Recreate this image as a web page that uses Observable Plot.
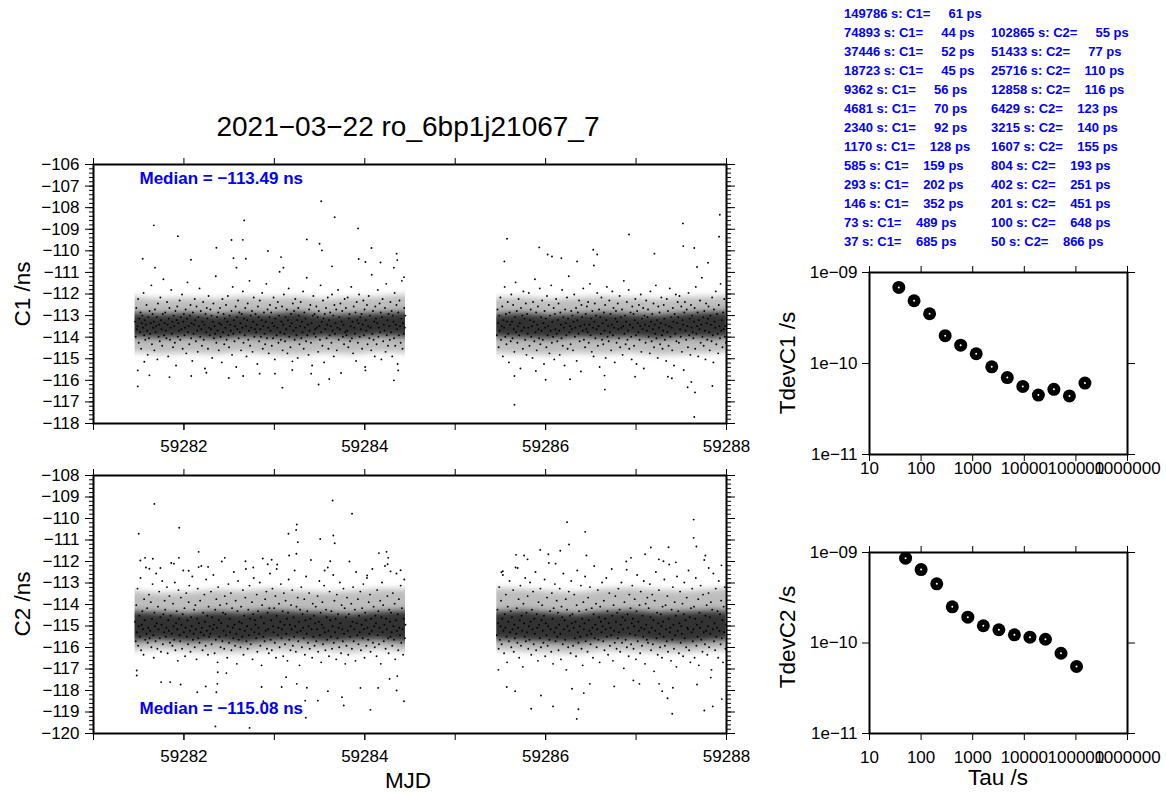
<!DOCTYPE html>
<html>
<head>
<meta charset="utf-8">
<script src="https://cdn.jsdelivr.net/npm/d3@7"></script>
<script src="https://cdn.jsdelivr.net/npm/@observablehq/plot@0.6"></script>
<style>
  html, body { margin: 0; padding: 0; background: #fff; }
  #root { position: relative; width: 1166px; height: 793px; overflow: hidden; background: #fff; }
</style>
</head>
<body>
<div id="root"></div>
<script>
// ---------------- DATA ----------------
const chartTitle = "2021−03−22 ro_6bp1j21067_7";

// TDEV results (tau in s, tdev in ps)
const c1Tau  = [37, 73, 146, 293, 585, 1170, 2340, 4681, 9362, 18723, 37446, 74893, 149786];
const c1Tdev = [685, 489, 352, 202, 159, 128, 92, 70, 56, 45, 52, 44, 61];
const c2Tau  = [50, 100, 201, 402, 804, 1607, 3215, 6429, 12858, 25716, 51433, 102865];
const c2Tdev = [866, 648, 451, 251, 193, 155, 140, 123, 116, 110, 77, 55];

// medians (ns)
const c1Median = -113.49;
const c2Median = -115.08;

// sampling spans of the two data blocks (MJD)
const blockStart = [59281.46, 59285.46];
const blockEnd   = [59284.45, 59287.995];
const devUnit = 0.07; // ns per unit of the deviation lists below

// C1 deviations from median (units of devUnit), block 1 and block 2
const c1Block1Dev = [
3,-7,12,-2,0,18,-11,5,-4,9,-15,2,7,-1,22,-6,4,-9,1,14,-3,-19,6,-8,10,
-5,2,27,-12,8,-1,3,-16,11,-4,0,6,-22,15,-7,1,-10,19,4,-2,-13,8,31,-6,2,
9,-3,-8,16,1,-20,5,12,-9,-1,24,-5,3,-14,7,0,-11,10,-26,4,13,-7,2,-3,17,
-9,6,-2,21,-15,3,8,-6,-1,11,-18,5,29,-4,0,-12,7,14,-8,2,-23,9,-5,1,18,
4,-10,13,-3,-17,6,0,25,-7,10,-2,-13,3,16,-9,1,-28,8,-4,12,5,-15,20,-1,-6,
11,-2,7,-21,3,15,-8,0,-5,33,-11,6,-3,9,-16,2,12,-7,1,-24,18,-4,8,-12,5,
-1,14,-9,3,20,-6,-14,7,1,-3,10,-19,26,-5,4,-10,0,13,-27,6,-2,17,-8,9,-4,
2,-16,8,-1,23,-11,5,-6,12,0,-20,4,15,-9,-3,30,-13,7,-1,10,-17,3,19,-7,-2,
8,-4,1,-25,13,6,-10,17,-2,-7,4,22,-15,0,9,-5,-12,3,28,-8,11,-1,-18,6,14,
-3,9,-13,2,-8,19,0,-22,5,12,-6,-1,16,-11,7,36,-4,-9,3,13,-16,1,21,-5,-10,
6,-2,11,-18,4,25,-7,0,-14,8,2,-29,15,-3,10,-9,18,-1,-6,4,-21,12,7,-12,0,
16,-8,3,-4,23,-15,9,-1,5,-10,32,-6,1,-19,11,-3,14,-11,2,-26,7,20,-5,8,-2,
-7,13,-1,6,-17,10,0,-9,27,-4,3,-13,17,5,-24,8,-2,12,-8,1,19,-15,4,-6,9,
0,-11,21,-3,7,-20,14,-5,2,11,-16,-1,24,-9,6,-2,15,-31,3,10,-7,1,-12,18,-4,
12,-6,-3,19,-14,5,8,-10,0,26,-8,3,-18,13,-1,-5,9,-23,16,4,-11,2,21,-7,6,
-2,8,-15,1,17,-6,11,-27,4,-3,14,-12,0,20,-8,7,-1,-16,34,-5,10,-9,3,-20,13,
5,-12,2,24,-7,-1,15,-4,9,-22,6,18,-10,1,-3,12,-17,28,-6,4,-13,8,0,-9,16,
-4,10,-20,7,3,-8,22,-13,1,14,-2,-25,9,-6,17,0,-11,5,30,-15,2,-5,12,-1,7
];
const c1Block2Dev = [
-6,11,2,-14,7,-3,19,-9,0,13,-20,4,-1,26,-7,8,-12,3,16,-5,-24,9,1,-10,21,
3,-8,14,-2,-17,6,29,-4,10,-11,0,18,-6,2,-28,12,-3,7,-15,23,-1,5,-9,15,-19,
8,-5,-1,22,-13,4,11,-7,0,-21,16,3,-10,31,-4,9,-16,1,13,-2,-8,25,-12,6,-3,
17,-9,2,-25,10,-1,5,-14,20,-6,0,14,-18,7,-3,27,-11,3,-7,12,-22,8,-2,18,-5,
-10,4,15,-3,-19,9,1,-8,24,-13,6,-1,-26,11,2,-6,19,-15,5,33,-4,0,-12,10,-2,
7,-16,3,21,-7,-1,12,-23,4,9,-5,17,-10,0,-30,14,6,-3,25,-9,1,-14,8,-2,13,
-4,16,-11,1,28,-6,5,-17,10,-1,-20,3,15,-8,7,-2,22,-13,0,11,-27,6,-5,19,-9,
2,-12,9,-3,14,-21,4,26,-7,0,-10,17,-4,8,-16,1,23,-6,12,-1,-24,5,10,-11,3,
15,-2,-8,20,-14,6,-1,11,-19,0,30,-5,7,-12,3,16,-9,-3,24,-15,1,9,-7,-22,13,
-1,8,-13,4,18,-6,-25,10,2,-4,14,-9,0,21,-17,5,-2,12,-28,7,1,-11,17,-3,6,
11,-7,0,-18,23,3,-10,8,-2,15,-14,1,-5,27,-8,4,-21,13,-1,9,-12,2,19,-6,-15,
-3,14,5,-9,1,-23,18,-4,10,-13,0,25,-7,6,-1,-16,12,3,-26,8,-5,21,-10,2,16,
6,-11,20,-2,-7,13,-17,4,1,-29,9,16,-3,-9,11,0,-14,22,-6,5,-19,14,-1,7,-4,
-8,3,12,-15,26,-5,0,9,-20,4,-2,17,-11,1,32,-7,6,-13,10,-3,-22,15,2,-9,5,
13,-4,-16,7,1,-10,19,-6,-24,11,3,-1,23,-12,8,-5,-18,14,0,-8,28,-3,4,-14,9,
-2,18,-7,0,-11
];

// C2 deviations from median (units of devUnit)
const c2Block1Dev = [
4,-9,15,-3,26,-12,1,8,-6,33,-15,2,11,-1,-18,19,5,-8,40,-4,13,-10,0,22,-7,
-2,17,-13,6,29,-5,-20,10,1,-9,36,3,-14,14,-1,24,-7,7,-16,2,31,-11,9,-3,18,
12,-6,0,27,-17,5,-2,21,-10,8,43,-4,-12,16,1,-8,30,-15,3,11,-1,-22,25,6,-5,
-9,20,2,-14,9,38,-3,13,-19,0,23,-6,5,-11,17,28,-2,-16,7,1,34,-8,-4,12,-13,
15,-1,-21,6,26,-7,3,-10,18,-3,41,0,-15,10,-5,22,4,-12,32,-2,8,-18,14,-6,1,
-4,24,-11,7,-1,35,2,-17,12,-8,19,0,-23,27,5,-6,15,-13,3,44,-9,10,-2,-14,21,
9,-5,16,-20,1,29,-10,6,-3,23,-15,13,0,-7,37,2,-12,18,-4,-24,11,31,-8,4,-1,
-13,14,3,-6,25,-18,8,-2,20,39,-9,1,-14,12,-5,28,6,-11,-1,17,-21,9,33,-3,5,
2,-7,22,-16,11,0,-4,30,-12,7,-25,15,46,-6,3,-9,19,-2,24,-14,10,-1,-17,13,36,
-8,5,-15,26,1,-3,13,-10,21,-20,8,42,-5,0,16,-13,4,29,-7,-1,11,-19,23,2,-11,
18,-4,6,-22,10,32,-8,2,-15,15,-1,25,-12,7,-6,38,1,-16,14,-3,20,-9,4,-25,12,
-2,27,-13,9,0,-7,19,-18,5,34,-4,11,-10,1,23,-14,6,45,-1,-20,16,-6,8,-12,3,
14,-9,-1,21,-16,4,31,-5,10,-23,2,17,-11,0,28,-3,-15,12,7,-8,40,-2,-19,24,5,
-6,11,-14,1,35,-10,18,-3,6,-21,22,-7,9,0,-13,30,3,-17,15,-1,-9,26,-4,13,-24,
7,-12,20,-2,-18,9,44,-6,1,16,-14,4,27,-9,-1,12,-22,37,3,-5,19,-11,8,-3,24,
-15,2,13,-7,29,-1,-20,10,5,-12,33,0,-8,17,-4,22,-16,6,-2,39,-10,14,1,-13,8,
3,-19,25,-5,11,-11,0,18,-24,7,30,-3,15,-9,2,41,-14,6,-1,21,-7,-17,12,4,-6,
10,-3,-12,23,1,-8,16,-21,5,36,-2,9,-15,19,0,-5,28,-10,13,-1,-18,6,32,-7,2
];
const c2Block2Dev = [
-5,12,3,-14,27,-8,1,18,-11,6,35,-2,-17,9,0,22,-6,-23,14,4,-9,31,-3,11,-13,
7,-1,25,-16,2,-7,40,-4,13,-10,0,19,-20,5,28,-12,8,-2,-26,16,3,-6,33,-9,10,
-3,21,-14,1,-8,30,4,-18,12,-1,24,-11,6,-4,37,-15,9,0,-22,17,2,-7,26,-13,5,
15,-2,-10,8,32,-19,3,-5,20,-12,1,43,-8,11,-1,-16,23,6,-24,13,-3,29,-9,0,18,
-6,10,-15,2,26,-4,-21,14,7,-11,36,-1,5,-8,19,-28,12,1,-13,24,-2,8,-17,31,3,
9,-12,0,22,-7,4,-19,15,38,-3,-10,11,1,-6,28,-14,6,-25,17,-1,3,34,-9,12,-5,
-16,20,5,-2,27,-11,-4,13,0,-20,9,41,-7,2,16,-13,-1,25,-8,7,-23,14,4,-3,30,
1,-9,18,-15,6,-1,33,-6,11,-18,3,23,-12,0,-5,39,8,-22,15,-2,-10,21,4,-14,10,
-7,26,-3,12,-16,2,30,-10,7,-1,-27,17,5,-8,44,-13,9,0,-19,22,-4,13,-11,3,28,
6,-14,1,19,-5,-21,11,35,-9,4,-2,15,-17,24,0,-12,8,-6,31,-1,-24,16,2,-8,20,
-10,13,-3,29,7,-15,0,22,-11,5,-29,18,-2,37,-7,10,-18,3,25,-4,-13,9,1,-20,14,
4,-6,32,-12,15,-1,-9,21,-16,6,42,-3,0,-22,12,-8,27,2,-14,17,-5,8,-26,34,-2,
11,-17,3,24,-10,1,-4,16,-19,9,30,-7,5,-13,20,0,-1,38,-15,7,-23,13,-3,26,-9,
-1,14,-20,6,33,-12,2,-6,19,-25,10,0,28,-8,4,-16,22,-3,45,-11,8,-2,15,-18,1,
23,-13,7,-4,17,-28,12,-1,36,-9,3,-15,26,-6,0,11,-20,31,-2,9,-11,18,-7,5,-23,
14,-3,27,-14,2
];

// isolated points (MJD, ns)
const c1OutT = [59281.667,59281.544,59281.933,59281.68,59282.078,59282.359,59282.526,59282.651,59282.667,59282.548,59282.685,59282.581,59282.929,59283.074,59283.1,59283.359,59283.5,59283.518,59283.526,59283.667,59283.637,59283.926,59283.933,59284.007,59284.074,59284.174,59284.352,59284.359,59284.322,59284.433,
59281.489,59281.489,59281.562,59281.618,59281.84,59282.081,59282.248,59282.496,59282.655,59282.837,59283.007,59283.089,59283.489,59283.607,59283.407,59284.007,59284.322,59284.37,59283.2,
59285.573,59285.544,59285.929,59286.022,59286.07,59286.174,59286.348,59286.526,59286.57,59286.533,59286.922,59287.203,59287.518,59287.522,59287.644,59287.796,59287.926,59287.918,59287.674,
59285.655,59285.655,59286.0,59286.27,59286.655,59286.651,59286.989,59287.352,59287.396,59287.57,59287.611,59287.652,59287.644,59287.844,59285.892];
const c1OutV = [-108.82,-110.37,-109.32,-110.78,-110.41,-109.86,-109.50,-109.49,-108.59,-110.34,-110.37,-110.78,-110.01,-110.29,-110.78,-109.47,-109.67,-107.70,-109.98,-108.44,-110.72,-108.96,-110.38,-110.52,-109.87,-110.54,-110.13,-110.43,-110.78,-111.22,
-116.28,-115.54,-115.14,-115.77,-115.85,-115.80,-115.65,-115.89,-115.80,-115.69,-115.69,-116.34,-116.19,-115.94,-115.69,-115.54,-116.0,-115.54,-115.12,
-109.44,-110.49,-109.84,-110.17,-110.26,-110.34,-110.49,-109.95,-110.17,-110.68,-109.24,-110.13,-108.73,-109.78,-109.87,-110.55,-108.33,-109.35,-110.75,
-117.13,-115.80,-115.97,-115.95,-116.43,-115.78,-115.83,-115.83,-115.9,-116.32,-116.08,-116.56,-117.70,-116.26,-115.57];

const c2OutT = [59281.673,59281.5,59281.948,59281.518,59281.57,59281.656,59281.618,59281.74,59281.944,59281.889,59282.163,59282.052,59282.163,59282.452,59282.267,59282.681,59282.97,59282.926,59282.767,59283.026,59283.156,59283.248,59283.241,59283.259,59283.163,59283.244,59283.507,59283.644,59283.652,59283.667,59283.859,59283.618,59283.556,59284.156,59284.241,59284.259,59284.252,59284.396,59284.285,59284.026,
59281.478,59281.478,59281.748,59281.848,59281.963,59282.148,59282.359,59282.241,59282.374,59282.37,59282.47,59282.859,59283.081,59283.13,59283.248,59283.341,59283.359,59283.481,59283.592,59283.748,59283.767,59283.952,59284.063,59284.148,59284.274,59284.352,59284.359,59284.433,59282.348,59282.726,59282.878,59283.348,
59286.237,59286.437,59286.259,59287.637,59287.637,59287.667,59285.673,59285.762,59285.94,59286.162,59286.451,59285.8,59286.03,59286.11,59286.944,59287.1,59287.163,59287.252,59287.303,59287.359,59287.44,59287.766,59287.803,59287.944,59285.526,59285.51,59285.69,59286.896,
59285.478,59285.57,59285.663,59285.84,59285.948,59286.081,59286.344,59286.362,59286.292,59286.422,59286.489,59286.759,59286.97,59287.037,59287.255,59287.289,59287.348,59287.4,59287.407,59287.674,59287.755,59287.848,59287.948,59287.826];
const c2OutV = [-109.32,-110.71,-110.43,-111.95,-111.83,-111.87,-112.34,-112.3,-111.83,-112.1,-111.55,-112.43,-112.26,-111.83,-112.25,-111.99,-111.92,-112.13,-112.28,-112.35,-110.71,-110.28,-110.53,-111.10,-111.72,-111.64,-110.95,-109.16,-110.79,-111.15,-109.78,-111.99,-112.42,-111.61,-111.55,-111.83,-112.13,-112.41,-112.46,-112.65,
-117.07,-117.30,-117.61,-117.61,-117.72,-118.08,-118.08,-117.81,-117.15,-117.69,-117.19,-117.84,-117.84,-117.38,-117.69,-118.47,-117.87,-118.47,-118.03,-118.31,-118.70,-117.88,-118.90,-117.88,-117.46,-118.0,-117.33,-118.50,-119.67,-119.74,-118.50,-119.27,
-110.17,-110.62,-111.21,-110.05,-110.90,-111.30,-111.69,-111.72,-111.46,-111.5,-111.72,-111.9,-111.66,-112.1,-111.83,-111.66,-111.35,-111.9,-111.99,-111.34,-112.04,-111.72,-112.3,-112.18,-112.45,-112.5,-112.3,-112.38,
-117.04,-117.84,-118.03,-118.85,-118.23,-118.74,-119.32,-118.87,-117.92,-118.12,-117.69,-117.81,-117.53,-117.69,-117.69,-118.03,-118.36,-119.08,-117.87,-117.72,-118.93,-118.74,-118.40,-117.4];

// density envelope of the dense core, read per time bin (MJD, ns)
const bandT = [59281.46,59281.75,59282.05,59282.35,59282.65,59282.95,59283.25,59283.55,59283.85,59284.15,59284.45,
               59285.46,59285.75,59286.05,59286.35,59286.65,59286.95,59287.25,59287.55,59287.85,59287.995];
const c1InnerHi = [-112.9,-112.95,-112.9,-113.0,-112.9,-112.95,-112.85,-113.0,-112.95,-112.9,-112.85, -112.95,-112.9,-113.0,-112.95,-112.9,-112.95,-113.0,-112.9,-112.85,-112.85];
const c1InnerLo = [-114.0,-114.05,-114.0,-114.1,-114.0,-114.05,-114.1,-114.0,-114.05,-113.95,-114.0, -114.0,-114.05,-114.1,-114.0,-114.05,-114.0,-114.1,-114.0,-114.05,-114.0];
const c1OuterHi = [-112.15,-112.25,-112.2,-112.25,-112.15,-112.2,-112.15,-112.25,-112.2,-112.15,-112.05, -112.2,-112.15,-112.25,-112.2,-112.15,-112.2,-112.25,-112.15,-112.15,-112.1];
const c1OuterLo = [-114.7,-114.8,-114.75,-114.8,-114.7,-114.8,-114.85,-114.75,-114.8,-114.7,-114.75, -114.75,-114.8,-114.85,-114.75,-114.8,-114.75,-114.85,-114.8,-114.75,-114.7];
const c2InnerHi = [-114.35,-114.4,-114.45,-114.35,-114.4,-114.3,-114.35,-114.4,-114.45,-114.35,-114.3, -114.35,-114.3,-114.4,-114.45,-114.35,-114.3,-114.4,-114.35,-114.3,-114.35];
const c2InnerLo = [-115.7,-115.65,-115.75,-115.7,-115.8,-115.7,-115.65,-115.75,-115.7,-115.65,-115.75, -115.65,-115.7,-115.75,-115.8,-115.7,-115.65,-115.75,-115.8,-115.7,-115.65];
const c2OuterHi = [-113.4,-113.5,-113.45,-113.35,-113.4,-113.3,-113.4,-113.45,-113.4,-113.3,-113.3, -113.25,-113.3,-113.4,-113.45,-113.3,-113.25,-113.35,-113.4,-113.3,-113.25];
const c2OuterLo = [-116.15,-116.1,-116.2,-116.25,-116.25,-116.15,-116.2,-116.15,-116.25,-116.1,-116.2, -116.15,-116.2,-116.25,-116.3,-116.15,-116.2,-116.25,-116.25,-116.15,-116.15];

// axis ticks
const mjdTicks = [59281, 59282, 59283, 59284, 59285, 59286, 59287, 59288];
const mjdLabels = [59282, 59284, 59286, 59288];
const c1YTicks = [-106,-107,-108,-109,-110,-111,-112,-113,-114,-115,-116,-117,-118];
const c2YTicks = [-108,-109,-110,-111,-112,-113,-114,-115,-116,-117,-118,-119,-120];
const tauTicks = [10, 100, 1000, 10000, 100000, 1000000];
const tauTickLabels = ["10", "100", "1000", "10000", "100000", "1000000"];
const tdevTicks = [1e-9, 1e-10, 1e-11];
const tdevTickLabels = ["1e−09", "1e−10", "1e−11"];

// ---------------- DRAWING ----------------
const FONT = "'Liberation Sans', Arial, Helvetica, sans-serif";
const root = document.getElementById("root");
const minus = v => (v < 0 ? "−" + Math.abs(v) : String(v));

function hText(txt, x, baseline, fs, opts = {}) {
  const d = document.createElement("div");
  d.textContent = txt;
  Object.assign(d.style, {
    position: "absolute", whiteSpace: "pre", fontFamily: FONT, fontSize: fs + "px",
    lineHeight: "1", top: (baseline - 0.8465 * fs) + "px",
    color: opts.color || "#000", fontWeight: opts.bold ? "bold" : "normal"
  });
  if (opts.center) { d.style.left = (x - 500) + "px"; d.style.width = "1000px"; d.style.textAlign = "center"; }
  else d.style.left = x + "px";
  root.appendChild(d);
}
function vText(txt, baselineX, cy, fs) {
  const d = document.createElement("div");
  d.textContent = txt;
  Object.assign(d.style, {
    position: "absolute", whiteSpace: "pre", fontFamily: FONT, fontSize: fs + "px",
    lineHeight: "1", left: (baselineX - 0.3465 * fs) + "px", top: cy + "px", color: "#000",
    transform: "translate(-50%,-50%) rotate(-90deg)"
  });
  root.appendChild(d);
}
function place(svg, left, top) {
  svg.style.position = "absolute";
  svg.style.left = left + "px";
  svg.style.top = top + "px";
  root.appendChild(svg);
}
// soften the density envelope so it reads like a cloud of points
function softenBands(svg, id) {
  const ns = "http://www.w3.org/2000/svg";
  const defs = document.createElementNS(ns, "defs");
  const filter = document.createElementNS(ns, "filter");
  filter.setAttribute("id", id);
  filter.setAttribute("x", "-5%"); filter.setAttribute("y", "-60%");
  filter.setAttribute("width", "110%"); filter.setAttribute("height", "220%");
  const blur = document.createElementNS(ns, "feGaussianBlur");
  blur.setAttribute("stdDeviation", "0.5 3.4");
  filter.appendChild(blur); defs.appendChild(filter);
  svg.insertBefore(defs, svg.firstChild);
  svg.querySelectorAll('g[aria-label="area"]').forEach(g => g.setAttribute("filter", `url(#${id})`));
  return svg;
}

function blockPoints(devs, k, median) {
  const a = blockStart[k], b = blockEnd[k], n = devs.length;
  return devs.map((d, i) => ({t: a + (b - a) * i / (n - 1), v: median + d * devUnit}));
}
function bandRows(iLo, iHi, oLo, oHi) {
  return bandT.map((t, i) => ({t, seg: t < 59285 ? 1 : 2, iLo: iLo[i], iHi: iHi[i], oLo: oLo[i], oHi: oHi[i]}));
}
function minorTicks(major, step) {
  const lo = Math.min(...major), hi = Math.max(...major), out = [];
  for (let v = lo; v <= hi + 1e-9; v += step) out.push(+v.toFixed(2));
  return out;
}

function scatterPanel({points, outT, outV, band, yTicks, median, medianFrame, medianDy, height, marginTop, marginBottom}) {
  const yMinor = minorTicks(yTicks, 0.2);
  const outliers = outT.map((t, i) => ({t, v: outV[i]}));
  const blank = () => "";
  return Plot.plot({
    width: 770, height, marginLeft: 93, marginRight: 44, marginTop, marginBottom,
    x: {domain: [59281, 59288], label: null},
    y: {domain: [Math.min(...yTicks), Math.max(...yTicks)], label: null},
    style: {fontFamily: FONT, fontSize: "17px", color: "#000", background: "transparent", overflow: "visible"},
    marks: [
      Plot.areaY(band, {x: "t", y1: "oLo", y2: "oHi", z: "seg", fill: "#bdbdbd"}),
      Plot.areaY(band, {x: "t", y1: "iLo", y2: "iHi", z: "seg", fill: "#333333"}),
      Plot.dot(points, {x: "t", y: "v", r: 0.95, fill: "#000", stroke: "none"}),
      Plot.dot(outliers, {x: "t", y: "v", r: 0.95, fill: "#000", stroke: "none"}),
      Plot.axisY({ticks: yTicks, tickSize: 8, tickPadding: 6, tickFormat: minus, fontSize: 17, label: null}),
      Plot.axisY({ticks: yMinor, tickSize: 4, tickFormat: blank, label: null}),
      Plot.axisY({anchor: "right", ticks: yTicks, tickSize: 8, tickFormat: blank, label: null}),
      Plot.axisY({anchor: "right", ticks: yMinor, tickSize: 4, tickFormat: blank, label: null}),
      Plot.axisX({anchor: "bottom", ticks: mjdLabels, tickSize: 7, tickPadding: 9, tickFormat: d => String(d), fontSize: 17, label: null}),
      Plot.axisX({anchor: "bottom", ticks: mjdTicks, tickSize: 7, tickFormat: blank, label: null}),
      Plot.axisX({anchor: "top", ticks: mjdTicks, tickSize: 7, tickFormat: blank, label: null}),
      Plot.frame({stroke: "#000", strokeWidth: 2}),
      Plot.text([`Median = ${minus(median).replace(/(\.\d)$/, "$10")} ns`], {
        frameAnchor: medianFrame, dx: 46, dy: medianDy, textAnchor: "start", lineAnchor: "middle",
        fill: "#0000ff", fontWeight: "bold", fontSize: 17, text: d => d
      })
    ]
  });
}

function tdevPanel({tau, tdev, height, marginTop, marginBottom, xPad}) {
  const data = tau.map((t, i) => ({tau: t, tdev: tdev[i] * 1e-12}));
  const blank = () => "";
  const yLab = new Map(tdevTicks.map((t, i) => [t, tdevTickLabels[i]]));
  const xLab = new Map(tauTicks.map((t, i) => [t, tauTickLabels[i]]));
  return Plot.plot({
    width: 406, height, marginLeft: 109, marginRight: 39, marginTop, marginBottom,
    x: {type: "log", domain: [10, 1e6], label: null},
    y: {type: "log", domain: [1e-11, 1e-9], label: null},
    style: {fontFamily: FONT, fontSize: "17px", color: "#000", background: "transparent", overflow: "visible"},
    marks: [
      Plot.axisY({ticks: tdevTicks, tickSize: 7, tickPadding: 5, tickFormat: d => yLab.get(d), fontSize: 17, label: null}),
      Plot.axisY({anchor: "right", ticks: tdevTicks, tickSize: 7, tickFormat: blank, label: null}),
      Plot.axisX({anchor: "bottom", ticks: tauTicks, tickSize: 7, tickPadding: xPad, tickFormat: d => xLab.get(d), fontSize: 17, label: null}),
      Plot.axisX({anchor: "top", ticks: tauTicks, tickSize: 7, tickFormat: blank, label: null}),
      Plot.frame({stroke: "#000", strokeWidth: 2}),
      Plot.dot(data, {x: "tau", y: "tdev", r: 6.5, fill: "#000", stroke: "none"}),
      Plot.dot(data, {x: "tau", y: "tdev", r: 1, fill: "#fff", stroke: "none"})
    ]
  });
}

// Scatter panels
const c1Points = [...blockPoints(c1Block1Dev, 0, c1Median), ...blockPoints(c1Block2Dev, 1, c1Median)];
const c2Points = [...blockPoints(c2Block1Dev, 0, c2Median), ...blockPoints(c2Block2Dev, 1, c2Median)];

place(softenBands(scatterPanel({
  points: c1Points, outT: c1OutT, outV: c1OutV,
  band: bandRows(c1InnerLo, c1InnerHi, c1OuterLo, c1OuterHi),
  yTicks: c1YTicks, median: c1Median, medianFrame: "top-left", medianDy: 14,
  height: 320, marginTop: 14, marginBottom: 47
}), "soft1"), 0, 150);

place(softenBands(scatterPanel({
  points: c2Points, outT: c2OutT, outV: c2OutV,
  band: bandRows(c2InnerLo, c2InnerHi, c2OuterLo, c2OuterHi),
  yTicks: c2YTicks, median: c2Median, medianFrame: "bottom-left", medianDy: -25,
  height: 320, marginTop: 15, marginBottom: 47
}), "soft2"), 0, 460);

// TDEV panels
place(tdevPanel({tau: c1Tau, tdev: c1Tdev, height: 235, marginTop: 17, marginBottom: 36, xPad: 0}), 760, 255);
place(tdevPanel({tau: c2Tau, tdev: c2Tdev, height: 235, marginTop: 17, marginBottom: 37, xPad: 10}), 760, 535);

// Title and axis titles
hText(chartTitle, 408, 137, 28, {center: true});
vText("C1 /ns", 31, 293.5, 22.5);
vText("C2 /ns", 31, 604, 22.5);
hText("MJD", 408, 789, 22.5, {center: true});
vText("TdevC1 /s", 795.5, 363, 22.5);
vText("TdevC2 /s", 795.5, 637, 22.5);
hText("Tau /s", 998, 786, 22.5, {center: true});

// TDEV table (top right)
const fmtRow = (tau, ch, val) => `${tau} s: ${ch}=` + " ".repeat(Math.max(1, 7 - String(val).length)) + val + " ps";
const c1Rev = c1Tau.map((t, i) => [t, c1Tdev[i]]).reverse();
const c2Rev = c2Tau.map((t, i) => [t, c2Tdev[i]]).reverse();
c1Rev.forEach(([t, v], k) => {
  hText(fmtRow(t, "C1", v), 844, 18.3 + 19 * k, 13, {bold: true, color: "#0000ff"});
});
c2Rev.forEach(([t, v], k) => {
  hText(fmtRow(t, "C2", v), 991, 18.3 + 19 * (k + 1), 13, {bold: true, color: "#0000ff"});
});
</script>
</body>
</html>
